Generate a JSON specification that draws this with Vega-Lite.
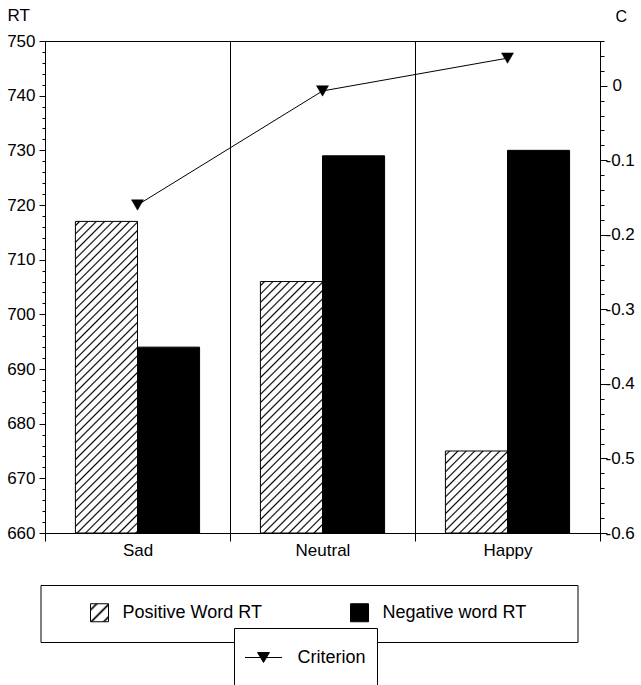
{
  "$schema": "https://vega.github.io/schema/vega-lite/v6.json",
  "width": 555,
  "height": 492,
  "autosize": {"type": "none"},
  "padding": {"left": 45, "top": 41, "right": 41, "bottom": 152},
  "background": "white",
  "config": {
    "view": {"stroke": "black", "strokeWidth": 1},
    "axis": {"labelFont": "Liberation Sans", "titleFont": "Liberation Sans", "labelColor": "#000", "titleColor": "#000", "domainColor": "#000", "tickColor": "#000", "grid": false, "labelFontSize": 17, "titleFontWeight": "normal"},
    "legend": {"labelFont": "Liberation Sans", "labelColor": "#000"}
  },
  "params": [
    {"name": "hatchStops", "expr": "[{offset:0.0069,color:'#fff'},{offset:0.0111,color:'#000'},{offset:0.0154,color:'#fff'},{offset:0.0291,color:'#fff'},{offset:0.0333,color:'#000'},{offset:0.0376,color:'#fff'},{offset:0.0513,color:'#fff'},{offset:0.0556,color:'#000'},{offset:0.0598,color:'#fff'},{offset:0.0735,color:'#fff'},{offset:0.0778,color:'#000'},{offset:0.0820,color:'#fff'},{offset:0.0958,color:'#fff'},{offset:0.1,color:'#000'},{offset:0.1043,color:'#fff'},{offset:0.1180,color:'#fff'},{offset:0.1222,color:'#000'},{offset:0.1265,color:'#fff'},{offset:0.1402,color:'#fff'},{offset:0.1444,color:'#000'},{offset:0.1487,color:'#fff'},{offset:0.1624,color:'#fff'},{offset:0.1667,color:'#000'},{offset:0.1709,color:'#fff'},{offset:0.1846,color:'#fff'},{offset:0.1889,color:'#000'},{offset:0.1931,color:'#fff'},{offset:0.2069,color:'#fff'},{offset:0.2111,color:'#000'},{offset:0.2154,color:'#fff'},{offset:0.2291,color:'#fff'},{offset:0.2333,color:'#000'},{offset:0.2376,color:'#fff'},{offset:0.2513,color:'#fff'},{offset:0.2556,color:'#000'},{offset:0.2598,color:'#fff'},{offset:0.2735,color:'#fff'},{offset:0.2778,color:'#000'},{offset:0.2820,color:'#fff'},{offset:0.2958,color:'#fff'},{offset:0.3,color:'#000'},{offset:0.3043,color:'#fff'},{offset:0.3180,color:'#fff'},{offset:0.3222,color:'#000'},{offset:0.3265,color:'#fff'},{offset:0.3402,color:'#fff'},{offset:0.3444,color:'#000'},{offset:0.3487,color:'#fff'},{offset:0.3624,color:'#fff'},{offset:0.3667,color:'#000'},{offset:0.3709,color:'#fff'},{offset:0.3846,color:'#fff'},{offset:0.3889,color:'#000'},{offset:0.3931,color:'#fff'},{offset:0.4069,color:'#fff'},{offset:0.4111,color:'#000'},{offset:0.4154,color:'#fff'},{offset:0.4291,color:'#fff'},{offset:0.4333,color:'#000'},{offset:0.4376,color:'#fff'},{offset:0.4513,color:'#fff'},{offset:0.4556,color:'#000'},{offset:0.4598,color:'#fff'},{offset:0.4735,color:'#fff'},{offset:0.4778,color:'#000'},{offset:0.4820,color:'#fff'},{offset:0.4958,color:'#fff'},{offset:0.5,color:'#000'},{offset:0.5043,color:'#fff'},{offset:0.5180,color:'#fff'},{offset:0.5222,color:'#000'},{offset:0.5265,color:'#fff'},{offset:0.5402,color:'#fff'},{offset:0.5444,color:'#000'},{offset:0.5487,color:'#fff'},{offset:0.5624,color:'#fff'},{offset:0.5667,color:'#000'},{offset:0.5709,color:'#fff'},{offset:0.5846,color:'#fff'},{offset:0.5889,color:'#000'},{offset:0.5931,color:'#fff'},{offset:0.6069,color:'#fff'},{offset:0.6111,color:'#000'},{offset:0.6154,color:'#fff'},{offset:0.6291,color:'#fff'},{offset:0.6333,color:'#000'},{offset:0.6376,color:'#fff'},{offset:0.6513,color:'#fff'},{offset:0.6556,color:'#000'},{offset:0.6598,color:'#fff'},{offset:0.6735,color:'#fff'},{offset:0.6778,color:'#000'},{offset:0.6820,color:'#fff'},{offset:0.6958,color:'#fff'},{offset:0.7,color:'#000'},{offset:0.7043,color:'#fff'},{offset:0.7180,color:'#fff'},{offset:0.7222,color:'#000'},{offset:0.7265,color:'#fff'},{offset:0.7402,color:'#fff'},{offset:0.7444,color:'#000'},{offset:0.7487,color:'#fff'},{offset:0.7624,color:'#fff'},{offset:0.7667,color:'#000'},{offset:0.7709,color:'#fff'},{offset:0.7846,color:'#fff'},{offset:0.7889,color:'#000'},{offset:0.7931,color:'#fff'},{offset:0.8069,color:'#fff'},{offset:0.8111,color:'#000'},{offset:0.8154,color:'#fff'},{offset:0.8291,color:'#fff'},{offset:0.8333,color:'#000'},{offset:0.8376,color:'#fff'},{offset:0.8513,color:'#fff'},{offset:0.8556,color:'#000'},{offset:0.8598,color:'#fff'},{offset:0.8735,color:'#fff'},{offset:0.8778,color:'#000'},{offset:0.8820,color:'#fff'},{offset:0.8958,color:'#fff'},{offset:0.9,color:'#000'},{offset:0.9043,color:'#fff'},{offset:0.9180,color:'#fff'},{offset:0.9222,color:'#000'},{offset:0.9265,color:'#fff'},{offset:0.9402,color:'#fff'},{offset:0.9444,color:'#000'},{offset:0.9487,color:'#fff'},{offset:0.9624,color:'#fff'},{offset:0.9667,color:'#000'},{offset:0.9709,color:'#fff'},{offset:0.9846,color:'#fff'},{offset:0.9889,color:'#000'},{offset:0.9931,color:'#fff'}]"},
    {"name": "gSad", "expr": "{gradient:'linear',x1:0,y1:0,x2:0.23095,y2:1.16072,stops:hatchStops}"},
    {"name": "gNeutral", "expr": "{gradient:'linear',x1:0,y1:0,x2:0.34752,y2:1.40953,stops:hatchStops}"},
    {"name": "gHappy", "expr": "{gradient:'linear',x1:0,y1:0,x2:2.2059,y2:2.91749,stops:hatchStops}"},
    {"name": "gLeg", "expr": "{gradient:'linear',x1:0,y1:0,x2:15.61,y2:15.61,stops:hatchStops}"}
  ],
  "layer": [
    {
      "data": {"values": [
        {"cond": "Sad", "word": "Positive Word RT", "rt": 717},
        {"cond": "Sad", "word": "Negative word RT", "rt": 694},
        {"cond": "Neutral", "word": "Positive Word RT", "rt": 706},
        {"cond": "Neutral", "word": "Negative word RT", "rt": 729},
        {"cond": "Happy", "word": "Positive Word RT", "rt": 675},
        {"cond": "Happy", "word": "Negative word RT", "rt": 730}
      ]},
      "mark": {"type": "bar", "stroke": "black", "strokeWidth": 1},
      "encoding": {
        "x": {"field": "cond", "type": "nominal", "sort": ["Sad", "Neutral", "Happy"],
              "scale": {"paddingInner": 0, "paddingOuter": 0},
              "axis": {"title": null, "tickBand": "extent", "grid": true, "gridColor": "#000", "gridWidth": 1, "gridOpacity": 1, "tickSize": 8, "labelAngle": 0, "labelPadding": 1, "labelFontSize": 17}},
        "xOffset": {"field": "word", "type": "nominal", "sort": ["Positive Word RT", "Negative word RT"],
                    "scale": {"paddingInner": 0, "paddingOuter": 0.49}},
        "y": {"field": "rt", "type": "quantitative", "stack": null,
              "scale": {"domain": [660, 750], "nice": false, "zero": false},
              "axis": {"title": "RT", "titleAngle": 0, "titleX": -38, "titleY": -26, "titleAlign": "left", "titleBaseline": "middle", "titleFontSize": 17,
                       "values": [660,662,664,666,668,670,672,674,676,678,680,682,684,686,688,690,692,694,696,698,700,702,704,706,708,710,712,714,716,718,720,722,724,726,728,730,732,734,736,738,740,742,744,746,748,750],
                       "labelExpr": "datum.value % 10 === 0 ? datum.label : ''",
                       "tickSize": {"condition": {"test": "datum.value % 10 === 0", "value": 6}, "value": 3},
                       "labelPadding": 4, "labelOverlap": false, "labelFlush": false, "labelBound": false}},
        "y2": {"datum": 660},
        "fill": {"field": "word", "type": "nominal",
                 "scale": {"domain": ["Positive Word RT", "Negative word RT"], "range": [{"expr": "gLeg"}, "black"]},
                 "condition": [
                   {"test": "datum.word === 'Positive Word RT' && datum.cond === 'Sad'", "value": {"expr": "gSad"}},
                   {"test": "datum.word === 'Positive Word RT' && datum.cond === 'Neutral'", "value": {"expr": "gNeutral"}},
                   {"test": "datum.word === 'Positive Word RT' && datum.cond === 'Happy'", "value": {"expr": "gHappy"}}
                 ],
                 "legend": {"title": "\u2800", "titleOrient": "right", "titleFontSize": 1, "titlePadding": 32,
                            "orient": "none", "legendX": -4.5, "legendY": 544, "direction": "horizontal",
                            "strokeColor": "black", "fillColor": "white", "padding": 18,
                            "symbolType": "square", "symbolSize": 324, "symbolStrokeColor": "black", "symbolStrokeWidth": 1,
                            "symbolOffset": 31.5, "labelOffset": 13.5, "columnPadding": 56,
                            "labelFontSize": 18, "labelLimit": 0}}
      }
    },
    {
      "data": {"values": [
        {"cond": "Sad", "c": -0.16, "series": "Criterion"},
        {"cond": "Neutral", "c": -0.007, "series": "Criterion"},
        {"cond": "Happy", "c": 0.037, "series": "Criterion"}
      ]},
      "encoding": {
        "x": {"field": "cond", "type": "nominal", "sort": ["Sad", "Neutral", "Happy"]},
        "y": {"field": "c", "type": "quantitative",
              "scale": {"domain": [-0.6, 0.06], "nice": false, "zero": false},
              "axis": {"orient": "right", "title": "C", "titleAngle": 0, "titleX": 15, "titleY": -25, "titleAlign": "left", "titleBaseline": "middle", "titleFontSize": 16,
                       "values": [-0.6,-0.58,-0.56,-0.54,-0.52,-0.5,-0.48,-0.46,-0.44,-0.42,-0.4,-0.38,-0.36,-0.34,-0.32,-0.3,-0.28,-0.26,-0.24,-0.22,-0.2,-0.18,-0.16,-0.14,-0.12,-0.1,-0.08,-0.06,-0.04,-0.02,0,0.02,0.04,0.06],
                       "labelExpr": "abs(datum.value*10 - round(datum.value*10)) < 0.001 && datum.value < 0.05 ? '' + round(datum.value*10)/10 : ''",
                       "tickSize": {"condition": {"test": "abs(datum.value*10 - round(datum.value*10)) < 0.001", "value": 7}, "value": 4},
                       "labelPadding": {"condition": {"test": "datum.value === 0", "value": 5}, "value": -2},
                       "labelOverlap": false, "labelFlush": false, "labelBound": false}}
      },
      "layer": [
        {"mark": {"type": "line", "color": "black", "strokeWidth": 1}},
        {"mark": {"type": "point", "shape": "triangle-down", "filled": true, "size": 144, "stroke": "black", "strokeWidth": 0.5, "opacity": 1},
         "encoding": {
           "color": {"field": "series", "type": "nominal", "scale": {"range": ["black"]},
                     "legend": {"title": null, "orient": "none", "legendX": 189, "legendY": 587,
                                "strokeColor": "black", "fillColor": "white", "padding": 10.5,
                                "symbolType": "M-1,0H1M-0.32,-0.27H0.32L0,0.27Z", "symbolSize": 1369,
                                "symbolStrokeColor": "black", "symbolFillColor": "black", "symbolStrokeWidth": 1,
                                "clipHeight": 38,
                                "labelOffset": 15, "labelFontSize": 18}}
         }}
      ]
    }
  ],
  "resolve": {"scale": {"y": "independent"}}
}
